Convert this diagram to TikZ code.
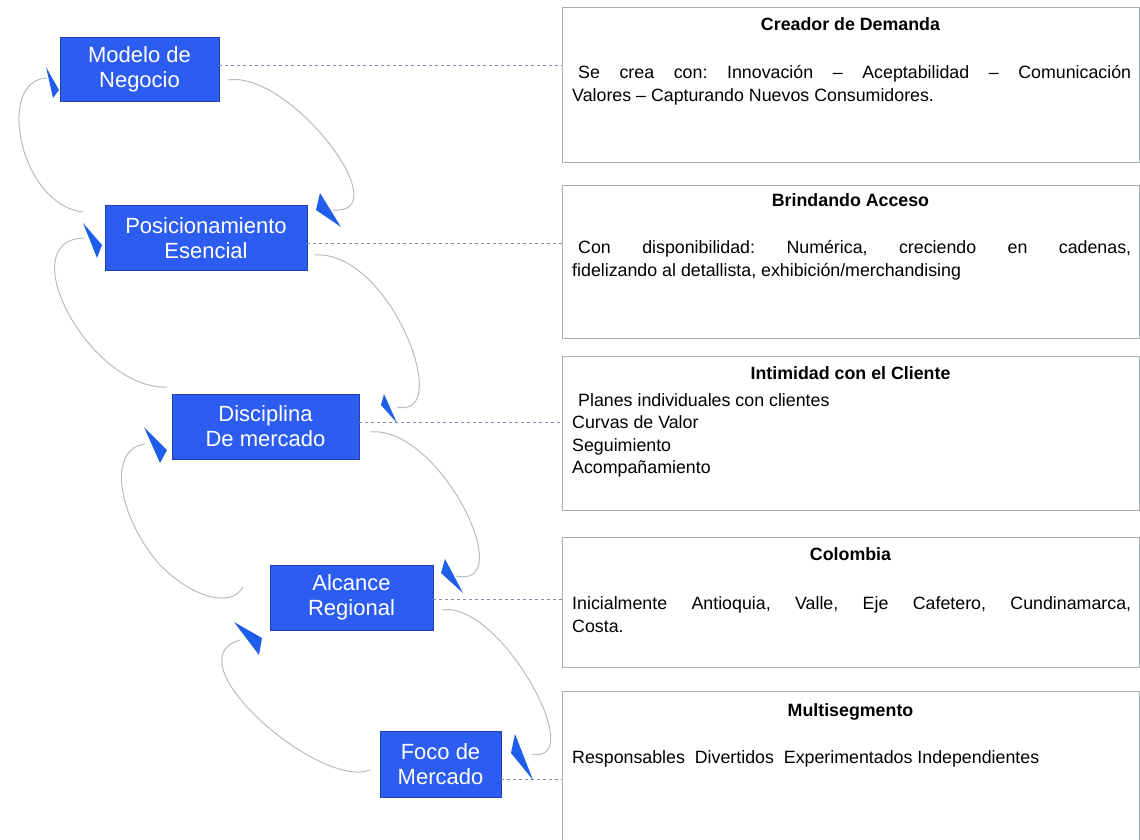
\documentclass[tikz,border=0pt]{standalone}
\usepackage{fontspec}
\setmainfont{Liberation Sans}
\frenchspacing
\definecolor{stageblue}{HTML}{2D5CF0}
\definecolor{stageedge}{HTML}{2040B0}
\definecolor{headblue}{HTML}{1F5EEB}
\definecolor{loopgray}{HTML}{B4BCC4}
\definecolor{linkgray}{HTML}{8090A8}
\definecolor{panelgray}{HTML}{A6B2B2}
\tikzset{
  stage/.style={draw=stageedge, fill=stageblue, text=white, line width=0.8pt,
    font=\fontsize{22}{25}\selectfont, align=center, inner sep=0pt},
  panel/.style={draw=panelgray, line width=1pt, inner sep=0pt},
  link/.style={draw=linkgray, line width=0.8pt, dash pattern=on 3pt off 3pt},
  loopline/.style={draw=loopgray, line width=1pt},
  head/.style={fill=headblue},
  ttl/.style={font=\bfseries\fontsize{17.8}{22.5}\selectfont, inner sep=0pt, anchor=base},
  txt/.style={font=\fontsize{17.8}{22.5}\selectfont, inner sep=0pt, anchor=base west},
}
\begin{document}
\begin{tikzpicture}[x=1pt,y=-1pt]
\useasboundingbox[fill=white] (0,0) rectangle (1140,840);

% stages of the strategy
\node[stage, minimum width=159, minimum height=64] (s1) at (139.5,69) {Modelo de\\Negocio};
\node[stage, minimum width=202, minimum height=65] (s2) at (206,238) {Posicionamiento\\Esencial};
\node[stage, minimum width=187, minimum height=65] (s3) at (265.5,426.5) {Disciplina\\De mercado};
\node[stage, minimum width=163, minimum height=65] (s4) at (351.5,597.5) {Alcance\\Regional};
\node[stage, minimum width=121, minimum height=66] (s5) at (440.5,764) {Foco de\\Mercado};

% description panels
\node[panel, minimum width=577, minimum height=154] (p1) at (850.5,85) {};
\node[panel, minimum width=577, minimum height=153] (p2) at (850.5,261.5) {};
\node[panel, minimum width=577, minimum height=154] (p3) at (850.5,433) {};
\node[panel, minimum width=577, minimum height=130] (p4) at (850.5,602) {};
\node[panel, minimum width=577, minimum height=159] (p5) at (850.5,770.5) {};

% panel texts
\node[ttl] (p1t) at (850.5,31) {Creador de Demanda};
\node[txt] (p1a) at (572,79) {\makebox[559pt][s]{\hspace*{6pt}Se crea con: Innovación – Aceptabilidad – Comunicación}};
\node[txt] (p1b) at (572,102) {Valores – Capturando Nuevos Consumidores.};

\node[ttl] (p2t) at (850.5,206) {Brindando Acceso};
\node[txt] (p2a) at (572,253) {\makebox[559pt][s]{\hspace*{6pt}Con disponibilidad: Numérica, creciendo en cadenas,}};
\node[txt] (p2b) at (572,276) {fidelizando al detallista, exhibición/merchandising};

\node[ttl] (p3t) at (850.5,379) {Intimidad con el Cliente};
\node[txt] (p3a) at (572,406) {\hspace*{6pt}Planes individuales con clientes};
\node[txt] (p3b) at (572,428) {Curvas de Valor};
\node[txt] (p3c) at (572,451) {Seguimiento};
\node[txt] (p3d) at (572,473) {Acompañamiento};

\node[ttl] (p4t) at (850.5,560) {Colombia};
\node[txt] (p4a) at (572,609) {\makebox[559pt][s]{Inicialmente Antioquia, Valle, Eje Cafetero, Cundinamarca,}};
\node[txt] (p4b) at (572,632) {Costa.};

\node[ttl] (p5t) at (850.5,716) {Multisegmento};
\node[txt] (p5a) at (572,763) {Responsables\ \ Divertidos\ \ Experimentados Independientes};

% dashed links from stages to panels
\draw[link] (s1.east |- 0,65) -- (p1.west |- 0,65);
\draw[link] (s2.east |- 0,243) -- (p2.west |- 0,243);
\draw[link] (s3.east |- 0,422) -- (p3.west |- 0,422);
\draw[link] (s4.east |- 0,599) -- (p4.west |- 0,599);
\draw[link] (s5.east |- 0,779) -- (p5.west |- 0,779);

% forward loops on the right
\draw[loopline] (228,80) .. controls (290,70) and (400,215) .. (333,210);
\fill[head] (320,193) -- (316,210) -- (341,227) -- cycle;
\draw[loopline] (315,255) .. controls (390,250) and (455,420) .. (397,407);
\fill[head] (384,394) -- (381,405) -- (397,423) -- cycle;
\draw[loopline] (370,432) .. controls (440,425) and (520,590) .. (456,576);
\fill[head] (445,559) -- (441,573) -- (463,593) -- cycle;
\draw[loopline] (442,610) .. controls (500,600) and (590,765) .. (532,754);
\fill[head] (515,734) -- (511,753) -- (533,780) -- cycle;

% feedback loops on the left
\draw[loopline] (83,212) .. controls (20,205) and (-5,80) .. (47,78);
\fill[head] (46,67) -- (59,90) -- (53,98) -- cycle;
\draw[loopline] (167,387) .. controls (90,390) and (10,240) .. (84,238);
\fill[head] (83,223) -- (102,245) -- (97,258) -- cycle;
\draw[loopline] (243,587) .. controls (232,607) and (195,600) .. (160,565)
  .. controls (120,520) and (105,450) .. (145,444);
\fill[head] (144,427) -- (167,450) -- (160,463) -- cycle;
\draw[loopline] (370,770) .. controls (320,790) and (170,660) .. (240,640);
\fill[head] (234,622) -- (262,638) -- (259,655) -- cycle;
\end{tikzpicture}
\end{document}
